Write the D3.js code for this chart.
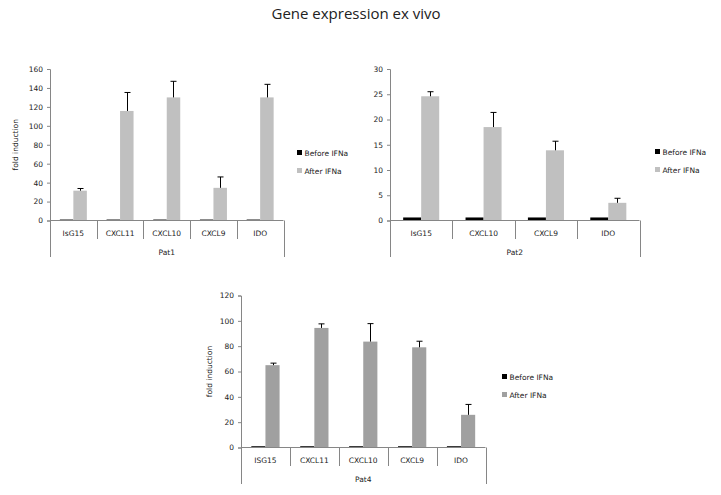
<!DOCTYPE html>
<html>
<head>
<meta charset="utf-8">
<script src="https://cdn.jsdelivr.net/npm/d3@7"></script>
<style>
    body { margin: 0; background: #fff; }
    text { font-family: "DejaVu Sans", Verdana, sans-serif; fill: #222; }
    .title { font-family: "Open Sans", sans-serif; }
</style>
</head>
<body>
<div id="chart"></div>
<script>
// values
const series = ["Before IFNa", "After IFNa"];

const pat1Genes = ["IsG15", "CXCL11", "CXCL10", "CXCL9", "IDO"];
const pat1Before = [1, 1, 1, 1, 1];
const pat1After = [31.5, 115.7, 130, 34.5, 130];
const pat1Err = [2.3, 19.5, 17, 11.5, 13.8];
const pat1Ticks = [0, 20, 40, 60, 80, 100, 120, 140, 160];

const pat2Genes = ["IsG15", "CXCL10", "CXCL9", "IDO"];
const pat2Before = [0.6, 0.6, 0.6, 0.6];
const pat2After = [24.6, 18.5, 13.9, 3.5];
const pat2Err = [0.9, 2.9, 1.8, 0.9];
const pat2Ticks = [0, 5, 10, 15, 20, 25, 30];

const pat4Genes = ["ISG15", "CXCL11", "CXCL10", "CXCL9", "IDO"];
const pat4Before = [1, 1, 1, 1, 1];
const pat4After = [65, 94.4, 83.6, 79.1, 25.8];
const pat4Err = [1.6, 3.2, 14.2, 4.8, 8.2];
const pat4Ticks = [0, 20, 40, 60, 80, 100, 120];

const width = 721, height = 495;
const axisColor = "#868686";

const svg = d3.select("#chart").append("svg")
    .attr("width", width)
    .attr("height", height);

svg.append("text")
    .attr("class", "title")
    .attr("x", 356)
    .attr("y", 19)
    .attr("text-anchor", "middle")
    .style("font-size", "15px")
    .text("Gene expression ex vivo");

function drawPanel(p) {
    const g = svg.append("g");

    let y = d3.scaleLinear()
        .domain([0, d3.max(p.ticks)])
        .range([p.bottom, p.top]);

    let x = d3.scaleBand()
        .domain(p.genes)
        .range([p.left, p.right]);

    let xs = d3.scaleBand()
        .domain(series)
        .range([0, x.bandwidth()])
        .paddingOuter(0.73);

    // y axis
    let yAxis = g.append("g")
        .attr("transform", "translate(" + p.left + ",0)")
        .call(d3.axisLeft(y).tickValues(p.ticks).tickSize(3).tickPadding(4));
    yAxis.selectAll("path, line").attr("stroke", axisColor);
    yAxis.selectAll("text").style("font-size", "7.5px").attr("fill", "#222");

    const rows = p.genes.map((gene, i) => ({
        gene: gene,
        before: p.before[i],
        after: p.after[i],
        err: p.err[i]
    }));

    // bars
    g.selectAll(".before")
        .data(rows)
        .enter().append("rect")
        .attr("x", d => x(d.gene) + xs("Before IFNa"))
        .attr("width", xs.bandwidth())
        .attr("y", d => y(d.before))
        .attr("height", d => y(0) - y(d.before))
        .attr("fill", "#000");

    g.selectAll(".after")
        .data(rows)
        .enter().append("rect")
        .attr("x", d => x(d.gene) + xs("After IFNa"))
        .attr("width", xs.bandwidth())
        .attr("y", d => y(d.after))
        .attr("height", d => y(0) - y(d.after))
        .attr("fill", p.color);

    // error bars (upper only)
    let cx = d => x(d.gene) + xs("After IFNa") + xs.bandwidth() / 2;
    g.selectAll(".err")
        .data(rows)
        .enter().append("path")
        .attr("d", d => {
            let x0 = Math.round(cx(d)) + 0.5;
            let yt = y(d.after + d.err);
            return "M" + x0 + "," + y(d.after) + "V" + yt + "M" + (x0 - 3) + "," + yt + "H" + (x0 + 3);
        })
        .attr("stroke", "#000")
        .attr("fill", "none");

    // category axis
    const b = p.bottom;
    g.append("line")
        .attr("x1", p.left).attr("x2", p.right)
        .attr("y1", b).attr("y2", b)
        .attr("stroke", axisColor);

    let edges = p.genes.map(d => x(d)).concat([p.right]);
    g.selectAll(".div")
        .data(edges)
        .enter().append("line")
        .attr("x1", d => Math.round(d) + 0.5).attr("x2", d => Math.round(d) + 0.5)
        .attr("y1", b)
        .attr("y2", (d, i) => (i === 0 || i === edges.length - 1) ? b + 36.5 : b + 18.5)
        .attr("stroke", axisColor);

    g.selectAll(".cat")
        .data(p.genes)
        .enter().append("text")
        .attr("x", d => x(d) + x.bandwidth() / 2)
        .attr("y", b + 15.5)
        .attr("text-anchor", "middle")
        .style("font-size", "7.5px")
        .text(d => d);

    g.append("text")
        .attr("x", (p.left + p.right) / 2)
        .attr("y", b + 34)
        .attr("text-anchor", "middle")
        .style("font-size", "7.5px")
        .text(p.name);

    if (p.yTitle) {
        g.append("text")
            .attr("transform", "translate(" + p.yTitleX + "," + (p.top + p.bottom) / 2 + ") rotate(-90)")
            .attr("text-anchor", "middle")
            .style("font-size", "7.5px")
            .text("fold induction");
    }

    // legend
    let legend = g.selectAll(".legend")
        .data(series)
        .enter().append("g")
        .attr("transform", (d, i) => "translate(" + p.legendX + "," + (p.legendY + i * 18) + ")");
    legend.append("rect")
        .attr("x", 0).attr("y", -3)
        .attr("width", 5).attr("height", 5)
        .attr("fill", (d, i) => i === 0 ? "#000" : p.color);
    legend.append("text")
        .attr("x", 7.5)
        .attr("y", 2.5)
        .style("font-size", "7.5px")
        .text(d => d);
}

drawPanel({name: "Pat1", genes: pat1Genes, before: pat1Before, after: pat1After, err: pat1Err, ticks: pat1Ticks,
    left: 50, right: 283.5, top: 69, bottom: 220.5, color: "#c0c0c0",
    yTitle: true, yTitleX: 18, legendX: 297, legendY: 153});

drawPanel({name: "Pat2", genes: pat2Genes, before: pat2Before, after: pat2After, err: pat2Err, ticks: pat2Ticks,
    left: 390, right: 639.5, top: 69, bottom: 220.5, color: "#c0c0c0",
    yTitle: false, legendX: 655, legendY: 152});

drawPanel({name: "Pat4", genes: pat4Genes, before: pat4Before, after: pat4After, err: pat4Err, ticks: pat4Ticks,
    left: 241, right: 485.5, top: 295.5, bottom: 447.5, color: "#a0a0a0",
    yTitle: true, yTitleX: 212, legendX: 502, legendY: 377});
</script>
</body>
</html>
